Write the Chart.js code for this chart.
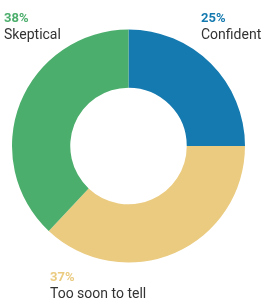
<!DOCTYPE html>
<html>
<head>
<meta charset="utf-8">
<script src="https://cdn.jsdelivr.net/npm/chart.js"></script>
<style>
  html,body{margin:0;padding:0;background:#fff;}
  #wrap{width:263px;height:302px;position:relative;}
</style>
</head>
<body>
<div id="wrap"><canvas id="c"></canvas></div>
<script>
const labels = ["Confident", "Too soon to tell", "Skeptical"];
const values = [25, 37, 38];
const colors = ["#157AB0", "#EACB80", "#4CAE6C"];
// where each caption sits (label index -> text anchor)
const captionPos = [
  {x: 201, y: 19},
  {x: 50, y: 278}, 
  {x: 4, y: 19}
];

const captions = {
  id: "captions",
  afterDraw(chart){
    const ctx = chart.ctx;
    ctx.save();
    ctx.textAlign = "left";
    ctx.textBaseline = "middle";
    labels.forEach((l, i) => {
      const p = captionPos[i];
      ctx.fillStyle = colors[i];
      ctx.font = "bold 13px Roboto";
      ctx.fillText(values[i] + "%", p.x, p.y);
      ctx.fillStyle = "#333333";
      ctx.font = "14px Roboto";
      ctx.fillText(l, p.x, p.y + 16);
    });
    ctx.restore();
  }
};

new Chart(document.getElementById("c"), {
  type: "doughnut",
  data: {
    labels: labels,
    datasets: [{data: values, backgroundColor: colors, borderWidth: 0}]
  },
  options: {
    responsive: true,
    maintainAspectRatio: false,
    animation: false,
    cutout: "50%",
    layout: {padding: {left: 12, right: 18, top: 29.5, bottom: 39.5}},
    plugins: {legend: {display: false}, tooltip: {enabled: false}}
  },
  plugins: [captions]
});
</script>
</body>
</html>
